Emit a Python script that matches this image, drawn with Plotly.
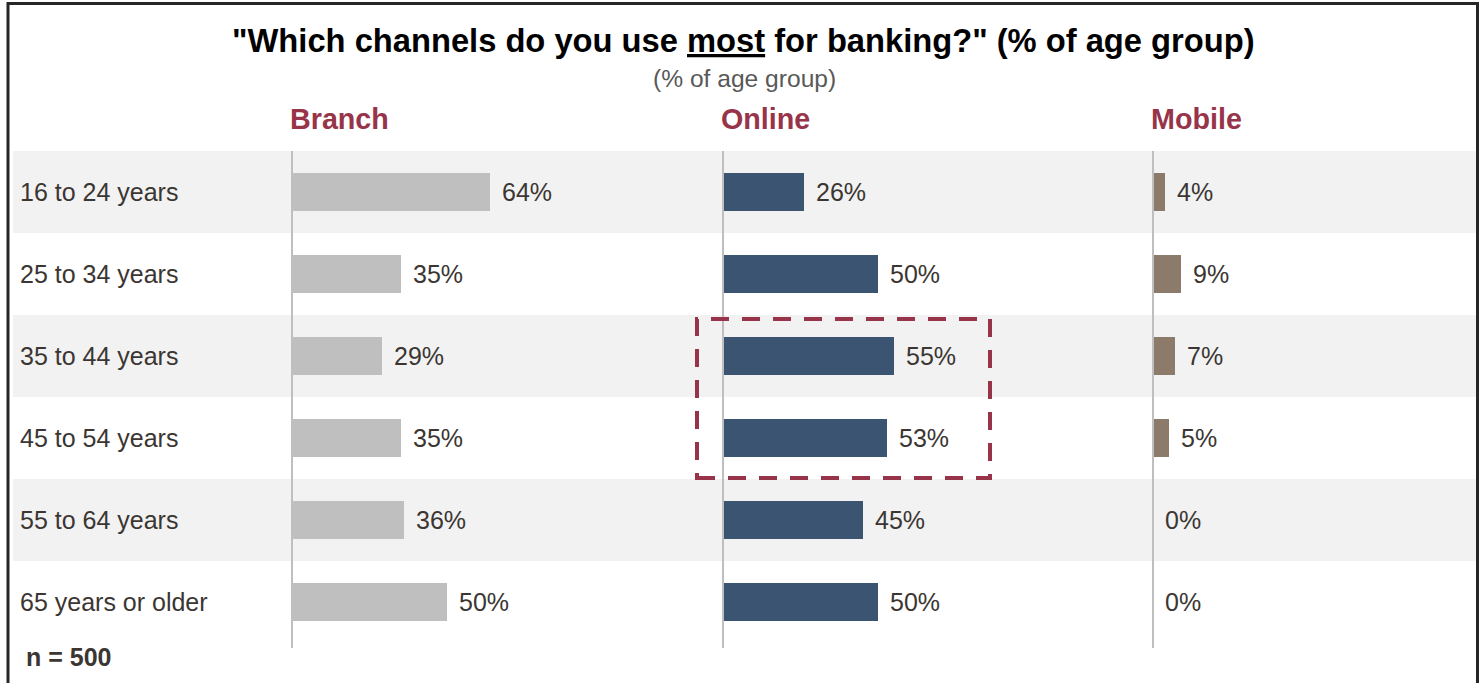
import plotly.graph_objects as go

# Survey results: share of each age group naming a channel as the one used most
age_groups = ["16 to 24 years", "25 to 34 years", "35 to 44 years",
              "45 to 54 years", "55 to 64 years", "65 years or older"]
branch = [64, 35, 29, 35, 36, 50]
online = [26, 50, 55, 53, 45, 50]
mobile = [4, 9, 7, 5, 0, 0]
channels = ["Branch", "Online", "Mobile"]
sample_note = "n = 500"

W, H = 1484, 683
FONT = "Arial, 'Liberation Sans', sans-serif"
TEXT = "#3b3632"
MAROON = "#973449"
BAR_COLORS = ["#bfbfbf", "#3a5471", "#8c7b6b"]

# panel layout in pixels
col_left = [292, 723, 1153]
px_per_unit = 3.1
rows_top, rows_bottom = 151, 643


def px(xp):
    return xp / W


def py(yp):
    return 1 - yp / H


fig = go.Figure()
series = [branch, online, mobile]
axis_ids = ["x", "x2", "x3"]
for i, (vals, ax) in enumerate(zip(series, axis_ids)):
    fig.add_trace(go.Bar(
        x=vals, y=age_groups, orientation="h", xaxis=ax, yaxis="y",
        marker=dict(color=BAR_COLORS[i], line=dict(width=0)),
        width=0.46, hoverinfo="skip", showlegend=False,
    ))
    for v, g in zip(vals, age_groups):
        fig.add_annotation(x=v, y=g, xref=ax, yref="y", text=f"{v}%",
                           xanchor="left", yanchor="middle", xshift=10,
                           showarrow=False, font=dict(size=25, color=TEXT, family=FONT))

axis_common = dict(showgrid=False, zeroline=False, showline=False,
                   showticklabels=False, ticks="", fixedrange=True)
for i, ax in enumerate(["xaxis", "xaxis2", "xaxis3"]):
    d0 = px(col_left[i])
    d1 = px(col_left[i] + 100 * px_per_unit)
    fig.update_layout(**{ax: dict(domain=[d0, d1], range=[0, 100], anchor="y", **axis_common)})

fig.update_layout(yaxis=dict(domain=[py(rows_bottom), py(rows_top)],
                             categoryorder="array", categoryarray=age_groups,
                             range=[len(age_groups) - 0.5, -0.5], anchor="x", **axis_common))

shapes = []
# alternating row bands
for i in range(0, len(age_groups), 2):
    shapes.append(dict(type="rect", xref="paper", yref="y", x0=px(13), x1=px(1476),
                       y0=i - 0.5, y1=i + 0.5, fillcolor="#f2f2f2",
                       line=dict(width=0), layer="below"))
# baseline for each channel
for xl in col_left:
    shapes.append(dict(type="line", xref="paper", yref="paper", x0=px(xl), x1=px(xl),
                       y0=py(rows_top), y1=py(648), line=dict(color="#bfbfbf", width=2),
                       layer="above"))
# highlight around the online results for ages 35 to 54
shapes.append(dict(type="rect", xref="paper", yref="paper", x0=px(697), x1=px(990),
                   y0=py(478), y1=py(319), fillcolor="rgba(0,0,0,0)",
                   line=dict(color=MAROON, width=4, dash="18px,13px"), layer="above"))
# outer frame
shapes.append(dict(type="rect", xref="paper", yref="paper", x0=px(8), x1=px(1477.5),
                   y0=-0.02, y1=py(3.5), fillcolor="rgba(0,0,0,0)",
                   line=dict(color="#262626", width=3), layer="above"))

annotations = []
for g in age_groups:
    annotations.append(dict(x=px(18), y=g, xref="paper", yref="y", text=g,
                            xanchor="left", yanchor="middle", showarrow=False,
                            font=dict(size=25, color=TEXT, family=FONT)))
for name, xl in zip(channels, col_left):
    annotations.append(dict(x=px(xl - 4), y=py(119), xref="paper", yref="paper",
                            text=f"<b>{name}</b>", xanchor="left", yanchor="middle",
                            showarrow=False, font=dict(size=28.7, color=MAROON, family=FONT)))
annotations.append(dict(x=px(743), y=py(40), xref="paper", yref="paper",
                        text='<b>"Which channels do you use <u>most</u> for banking?" (% of age group)</b>',
                        xanchor="center", yanchor="middle", showarrow=False,
                        font=dict(size=32.7, color="#000000", family=FONT)))
annotations.append(dict(x=px(744.5), y=py(79), xref="paper", yref="paper",
                        text="(% of age group)", xanchor="center", yanchor="middle",
                        showarrow=False, font=dict(size=24.6, color="#595959", family=FONT)))
annotations.append(dict(x=px(24), y=py(657), xref="paper", yref="paper",
                        text=f"<b>{sample_note}</b>", xanchor="left", yanchor="middle",
                        showarrow=False, font=dict(size=25, color=TEXT, family=FONT)))

for a in annotations:
    fig.add_annotation(**a)

fig.update_layout(width=W, height=H, margin=dict(l=0, r=0, t=0, b=0),
                  paper_bgcolor="white", plot_bgcolor="rgba(0,0,0,0)",
                  shapes=shapes, bargap=0, barmode="overlay")

fig.write_html("out.html")
